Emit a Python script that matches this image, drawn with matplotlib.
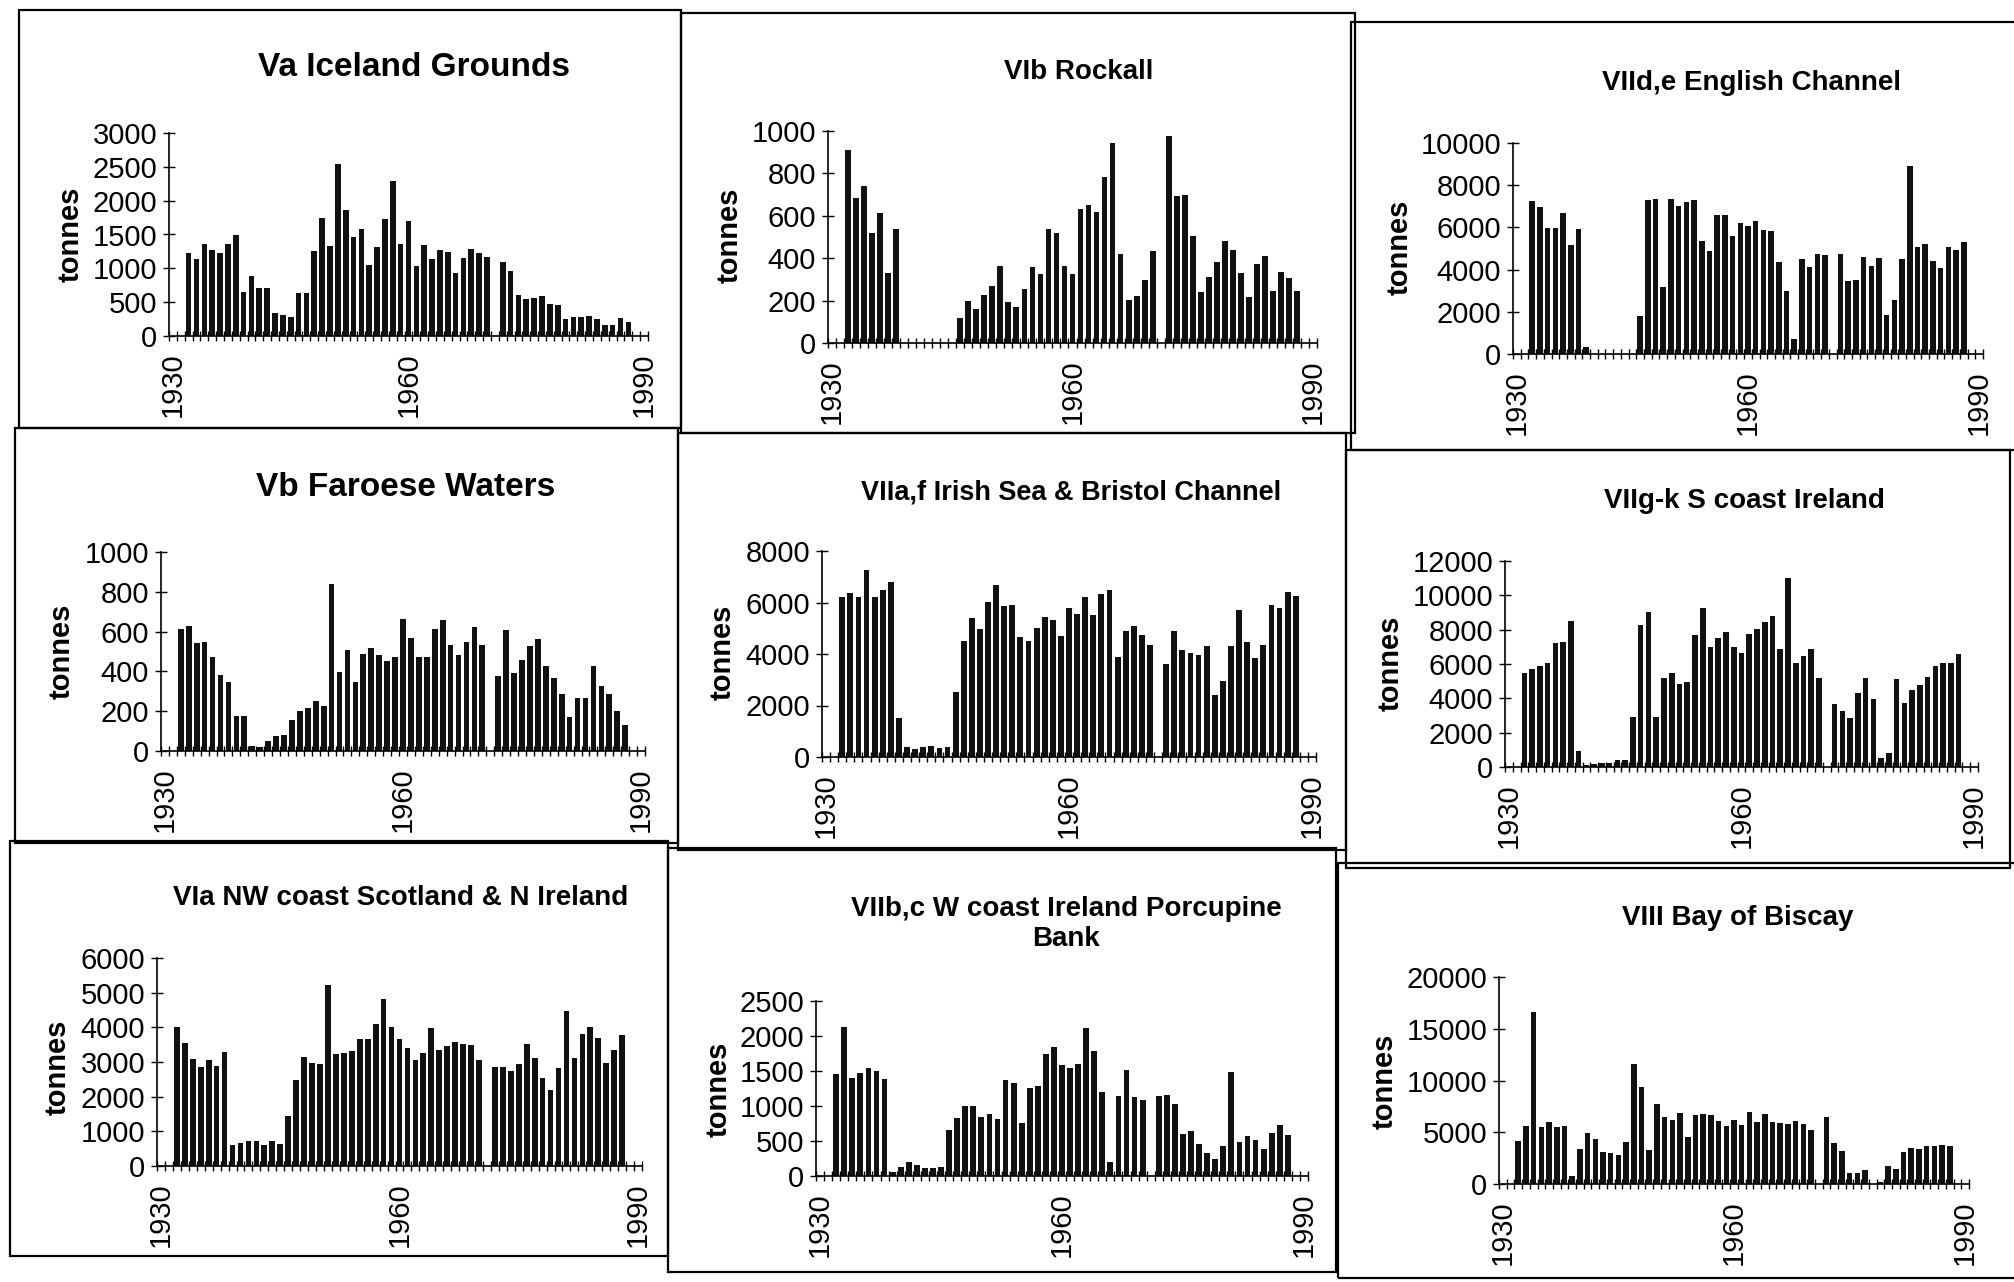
import numpy as np
import matplotlib
matplotlib.use("Agg")
import matplotlib.pyplot as plt
from matplotlib.patches import Rectangle

plt.rcParams['font.family'] = ['Liberation Sans Narrow', 'Liberation Sans', 'DejaVu Sans']

# catch by year, 1932-1988 (no figure for 1971)
years = list(range(1932, 1989))

iceland = [1220, 1137, 1365, 1266, 1233, 1353, 1497, 647, 894, 707, 713, 343, 309, 274,
           632, 638, 1258, 1739, 1334, 2542, 1860, 1460, 1574, 1051, 1318, 1735, 2285, 1361,
           1693, 1035, 1338, 1131, 1276, 1237, 930, 1159, 1283, 1225, 1167, None,
           1088, 956, 605, 547, 557, 588, 470, 461, 244, 285, 285, 291, 252, 169, 159, 269, 205]
rockall = [912, 684, 739, 518, 614, 331, 537, 0, 0, 0, 0, 0, 0, 0,
           119, 198, 162, 226, 271, 361, 193, 170, 254, 360, 325, 537, 517, 364,
           324, 631, 651, 620, 783, 944, 422, 204, 222, 296, 433, None,
           975, 692, 696, 504, 241, 311, 383, 479, 439, 332, 215, 373, 412, 247, 333, 305, 243]
channel = [7238, 6989, 5982, 5955, 6687, 5189, 5906, 313, 0, 0, 0, 0, 0, 0,
           1816, 7277, 7328, 3158, 7369, 7010, 7204, 7319, 5364, 4895, 6606, 6611, 5604, 6225,
           6056, 6282, 5859, 5833, 4367, 2980, 709, 4523, 4117, 4754, 4696, None,
           4721, 3476, 3496, 4577, 4170, 4570, 1839, 2571, 4505, 8889, 5067, 5230, 4413, 4069,
           5070, 4933, 5316]
faroe = [611, 628, 545, 547, 471, 383, 348, 174, 174, 26, 22, 52, 74, 81,
         156, 201, 217, 252, 224, 838, 396, 507, 347, 485, 518, 484, 450, 470,
         661, 566, 474, 474, 615, 657, 534, 480, 548, 621, 533, None,
         376, 608, 392, 458, 526, 562, 427, 369, 287, 169, 268, 266, 427, 328, 284, 199, 132]
irish_sea = [6196, 6355, 6203, 7254, 6209, 6472, 6811, 1519, 395, 321, 390, 431, 344, 386,
             2538, 4509, 5393, 4956, 6008, 6684, 5872, 5901, 4662, 4496, 5004, 5421, 5309, 4703,
             5781, 5538, 6214, 5505, 6325, 6483, 3871, 4897, 5081, 4735, 4363, None,
             3605, 4890, 4156, 4029, 3955, 4320, 2420, 2967, 4330, 5693, 4466, 3847, 4368, 5887,
             5786, 6398, 6259]
s_ireland = [5481, 5700, 5862, 6062, 7213, 7296, 8524, 951, 144, 169, 233, 240, 401, 408,
             2895, 8290, 9053, 2914, 5188, 5447, 4833, 4937, 7696, 9252, 6991, 7521, 7856, 7010,
             6648, 7720, 8037, 8431, 8768, 6894, 11000, 6034, 6466, 6860, 5180, None,
             3661, 3242, 2880, 4320, 5180, 3984, 520, 818, 5108, 3757, 4501, 4797, 5231, 5896,
             6057, 6083, 6555]
nw_scotland = [4022, 3552, 3073, 2852, 3066, 2885, 3282, 615, 656, 725, 708, 614, 731, 626,
               1438, 2470, 3147, 2985, 2939, 5214, 3232, 3272, 3303, 3671, 3654, 4089, 4804, 3996,
               3651, 3393, 3049, 3262, 3977, 3353, 3461, 3587, 3512, 3476, 3054, None,
               2856, 2858, 2744, 2948, 3528, 3116, 2550, 2194, 2822, 4462, 3125, 3811, 4015, 3680,
               2960, 3337, 3783]
porcupine = [1459, 2123, 1404, 1468, 1550, 1504, 1381, 56, 125, 207, 156, 114, 115, 132,
             653, 822, 1004, 997, 840, 889, 814, 1369, 1323, 756, 1254, 1289, 1743, 1845,
             1584, 1538, 1601, 2118, 1790, 1200, 204, 1146, 1519, 1125, 1083, None,
             1138, 1159, 1032, 598, 648, 453, 335, 237, 429, 1490, 489, 566, 516, 388, 614, 725, 588]
biscay = [4192, 5559, 16640, 5553, 5983, 5511, 5556, 760, 3418, 4915, 4379, 3069, 2982, 2802,
          4041, 11602, 9388, 3237, 7735, 6457, 6209, 6835, 4524, 6698, 6807, 6626, 6090, 5618,
          6146, 5706, 6977, 6022, 6776, 5980, 5864, 5844, 6082, 5806, 5258, None,
          6516, 4000, 3194, 1032, 1032, 1355, 30, 194, 1710, 1452, 3129, 3452, 3355, 3710,
          3710, 3774, 3645]

titles = ["Va Iceland Grounds", "VIb Rockall", "VIId,e English Channel",
          "Vb Faroese Waters", "VIIa,f Irish Sea & Bristol Channel", "VIIg-k S coast Ireland",
          "VIa NW coast Scotland & N Ireland", "VIIb,c W coast Ireland Porcupine\nBank",
          "VIII Bay of Biscay"]
series = [iceland, rockall, channel, faroe, irish_sea, s_ireland, nw_scotland, porcupine, biscay]
y_max = [3000, 1000, 10000, 1000, 8000, 12000, 6000, 2500, 20000]
y_step = [500, 200, 2000, 200, 2000, 2000, 1000, 500, 5000]

W, H = 2014, 1282
fig = plt.figure(figsize=(W / 100, H / 100), dpi=100)

# layout in pixels: axes (x left, x right, y of zero, y of top), title centre, tonnes centre, box
axes_px = [(169, 648, 336, 133), (828, 1317, 343, 131), (1513, 1983, 354, 143),
           (161, 645, 751, 552), (822, 1316, 757, 551), (1505, 1978, 767, 561),
           (157, 642, 1166, 958), (816, 1308, 1176, 1001), (1499, 1969, 1184, 977)]
title_px = [(414, 68), (1079, 72), (1751, 83), (406, 488), (1071, 492), (1744, 501),
            (401, 898), (1066, 924), (1738, 918)]
title_size = [24, 20, 20, 24, 19.5, 20, 20, 20, 20]
tonnes_px = [(71, 234), (730, 235), (1400, 247), (62, 651), (723, 652), (1391, 663),
             (58, 1067), (719, 1089), (1385, 1081)]
box_px = [(19, 10, 681, 428), (681, 13, 1355, 433), (1351, 22, 2030, 450),
          (15, 428, 678, 843), (678, 433, 1346, 850), (1346, 450, 2010, 868),
          (10, 841, 668, 1256), (668, 848, 1336, 1272), (1338, 863, 2030, 1278)]

for i in range(9):
    bx0, by0, bx1, by1 = box_px[i]
    fig.patches.append(Rectangle((bx0 / W, 1 - by1 / H), (bx1 - bx0) / W, (by1 - by0) / H,
                                 transform=fig.transFigure, fill=False, lw=1.6, color='black'))

    x0, x1, y0, y1 = axes_px[i]
    ax = fig.add_axes([x0 / W, 1 - y0 / H, (x1 - x0) / W, (y0 - y1) / H])
    yr = [y for y, v in zip(years, series[i]) if v is not None]
    vals = [v for v in series[i] if v is not None]
    ax.bar(yr, vals, width=0.72, color='#111111', edgecolor='none')

    ax.set_xlim(1929.5, 1990.5)
    ax.set_ylim(0, y_max[i])
    yt = np.arange(0, y_max[i] + 1, y_step[i])
    ax.set_yticks(yt)
    ax.set_yticklabels([str(int(t)) for t in yt])
    ax.set_xticks([1930, 1960, 1990])
    ax.set_xticklabels(['1930', '1960', '1990'], rotation=90)
    ax.set_xticks(np.arange(1929.5, 1991, 1), minor=True)
    ax.tick_params(axis='x', which='major', length=0, pad=12, labelsize=21)
    ax.tick_params(axis='x', which='minor', direction='inout', length=7, width=1)
    ax.tick_params(axis='y', direction='inout', length=9, width=1, labelsize=21, pad=4)
    for s in ['top', 'right']:
        ax.spines[s].set_visible(False)
    for s in ['left', 'bottom']:
        ax.spines[s].set_linewidth(1.2)

    tx, ty = title_px[i]
    fig.text(tx / W, 1 - ty / H, titles[i], ha='center', va='center',
             fontsize=title_size[i], fontweight='bold', linespacing=1.2)
    lx, ly = tonnes_px[i]
    fig.text(lx / W, 1 - ly / H, 'tonnes', rotation=90, ha='center', va='center',
             fontsize=21, fontweight='bold')

fig.savefig("out.png", dpi=100)
